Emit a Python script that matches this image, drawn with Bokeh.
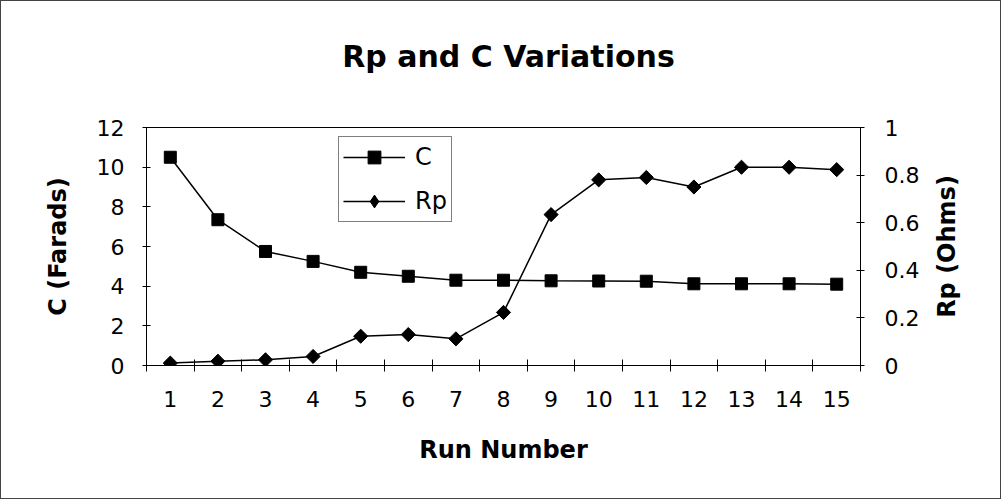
import math
from bokeh.plotting import figure
from bokeh.models import Range1d, LinearAxis, FixedTicker, CustomJSTickFormatter, Legend, LegendItem, Label
from bokeh.embed import file_html
from bokeh.resources import INLINE

runs = list(range(1, 16))
c_farads = [10.5, 7.35, 5.75, 5.25, 4.7, 4.5, 4.3, 4.3, 4.27, 4.26, 4.25, 4.12, 4.12, 4.12, 4.1]
rp_ohms = [0.01, 0.018, 0.024, 0.038, 0.123, 0.13, 0.112, 0.223, 0.634, 0.78, 0.79, 0.75, 0.833, 0.833, 0.823]
x_ticks = runs
c_ticks = [0, 2, 4, 6, 8, 10, 12]
rp_ticks = [0, 0.2, 0.4, 0.6, 0.8, 1.0]

FONT = "DejaVu Sans"
FW, FH = 714, 238

p = figure(width=999, height=497, output_backend="svg", toolbar_location=None,
           x_range=Range1d(0.5, 15.5), y_range=Range1d(0, 12),
           frame_width=FW, frame_height=FH,
           min_border_left=145, min_border_right=140, min_border_top=126, min_border_bottom=133)
p.extra_y_ranges = {"rp": Range1d(0, 1)}
p.styles = {"border": "1px solid #444"}

p.grid.visible = False
p.outline_line_color = "black"
p.outline_line_width = 1
p.background_fill_color = "white"
p.border_fill_color = "white"

title = Label(x=362, y=71, x_units="screen", y_units="screen", text="Rp and C Variations",
              text_align="center", text_baseline="alphabetic",
              text_font=FONT, text_font_size="30px", text_font_style="bold", text_color="black")
p.add_layout(title, "above")

# x axis
xa = p.xaxis[0]
xa.ticker = FixedTicker(ticks=x_ticks, minor_ticks=[i + 0.5 for i in range(0, 16)])
xa.major_tick_in = 0
xa.major_tick_out = 0
xa.minor_tick_in = 6
xa.minor_tick_out = 6
xa.minor_tick_line_color = "black"
xa.axis_line_color = "black"
xa.major_label_text_font = FONT
xa.major_label_text_font_size = "22px"
xa.major_label_text_color = "black"
xa.major_label_standoff = 19
xa.axis_label = "Run Number"
xa.axis_label_text_font = FONT
xa.axis_label_text_font_size = "24px"
xa.axis_label_text_font_style = "bold"
xa.axis_label_text_color = "black"
xa.axis_label_standoff = 26

# left y axis
ya = p.yaxis[0]
ya.ticker = FixedTicker(ticks=c_ticks, minor_ticks=[])
ya.major_tick_in = 4
ya.major_tick_out = 4
ya.major_tick_line_color = "black"
ya.axis_line_color = "black"
ya.major_label_text_font = FONT
ya.major_label_text_font_size = "22px"
ya.major_label_text_color = "black"
ya.major_label_standoff = 18
ya.axis_label = "C (Farads)"
ya.axis_label_text_font = FONT
ya.axis_label_text_font_size = "24px"
ya.axis_label_text_font_style = "bold"
ya.axis_label_text_color = "black"
ya.axis_label_standoff = 22

# right y axis
ra = LinearAxis(y_range_name="rp",
                ticker=FixedTicker(ticks=rp_ticks, minor_ticks=[]),
                formatter=CustomJSTickFormatter(code="return String(Number(tick.toFixed(2)));"))
ra.major_tick_in = 4
ra.major_tick_out = 4
ra.major_tick_line_color = "black"
ra.axis_line_color = "black"
ra.major_label_text_font = FONT
ra.major_label_text_font_size = "22px"
ra.major_label_text_color = "black"
ra.major_label_standoff = 20
p.add_layout(ra, "right")

rp_label = Label(x=10, y=119, x_units="screen", y_units="screen", text="Rp (Ohms)",
                 angle=math.pi / 2, text_align="center", text_baseline="top",
                 text_font=FONT, text_font_size="24px", text_font_style="bold", text_color="black")
p.add_layout(rp_label, "right")

# series
lc = p.line(runs, c_farads, line_color="black", line_width=1.5)
mc = p.scatter(runs, c_farads, marker="square", size=12, fill_color="black", line_color="black")
lr = p.line(runs, rp_ohms, line_color="black", line_width=1.5, y_range_name="rp")
md = p.scatter(runs, rp_ohms, marker="diamond", size=12,
               fill_color="black", line_color="black", y_range_name="rp")
mr = p.scatter(runs, rp_ohms, marker="square", angle=math.pi / 4, size=10,
               fill_color="black", line_color="black", y_range_name="rp")

legend = Legend(items=[LegendItem(label="C", renderers=[lc, mc]),
                       LegendItem(label="Rp", renderers=[lr, md])],
                location=(192, 143))
legend.label_text_font = FONT
legend.label_text_font_size = "24px"
legend.label_text_color = "black"
legend.glyph_width = 62
legend.glyph_height = 32
legend.label_height = 28
legend.label_standoff = 10
legend.spacing = 12
legend.padding = 4
legend.margin = 0
legend.border_line_color = "black"
legend.border_line_width = 1
legend.background_fill_color = "white"
legend.background_fill_alpha = 1
p.add_layout(legend, "center")

open("out.html", "w").write(file_html(p, INLINE))
